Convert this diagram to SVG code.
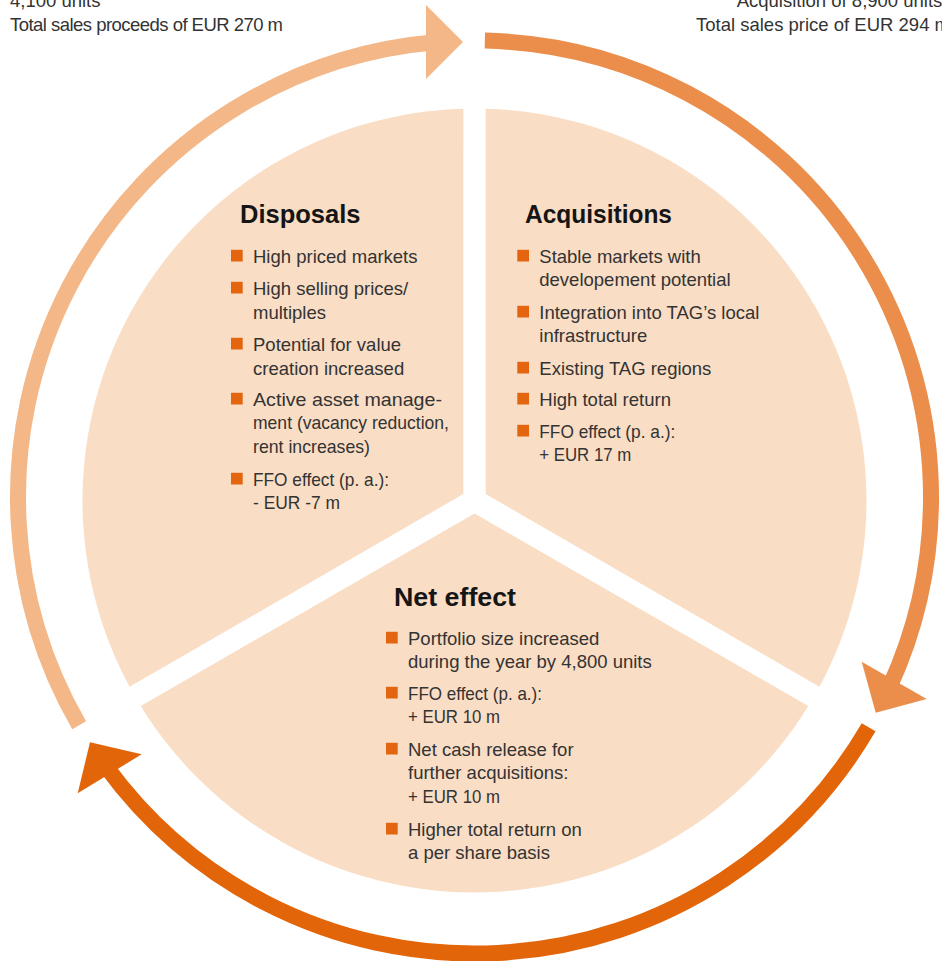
<svg xmlns="http://www.w3.org/2000/svg" width="942" height="961" viewBox="0 0 942 961">
<style>
.sector{fill:#F9DDC4;}
.title{font-family:"Liberation Sans",Arial,sans-serif;font-weight:bold;font-size:25.5px;fill:#151515;}
.body{font-family:"Liberation Sans",Arial,sans-serif;font-size:18.5px;fill:#333333;}
.note{font-family:"Liberation Sans",Arial,sans-serif;font-size:18.5px;fill:#333333;}
.bullet{fill:#E3650F;}
.arc{fill:none;stroke-width:16;stroke-linecap:butt;}
.light{stroke:#F4B787;}
.lightf{fill:#F4B787;}
.mid{stroke:#EC8E4B;}
.midf{fill:#EC8E4B;}
.dark{stroke:#E3650A;}
.darkf{fill:#E3650A;}
</style>
<rect width="942" height="961" fill="#ffffff"/>

<g id="notes">
<text class="note" x="10" y="6.5">4,100 units</text>
<text class="note" x="10" y="31" textLength="273" lengthAdjust="spacing">Total sales proceeds of EUR 270 m</text>
<text class="note" x="736.7" y="6.5">Acquisition of 8,900 units</text>
<text class="note" x="696" y="31">Total sales price of EUR 294 m</text>
</g>

<g id="connectors">
<path class="arc light" d="M 79.15 725.25 A 456.5 456.5 0 0 1 434.71 42.24"/>
<polygon class="lightf" points="426,5 463,42 426,79"/>
<path class="arc mid" d="M 484.86 40.62 A 456.5 456.5 0 0 1 889.57 687.03"/>
<polygon class="midf" points="861.7,661.7 926.7,699 875.7,712.7"/>
<path class="arc dark" d="M 868.64 727.32 A 456.5 456.5 0 0 1 106.12 766.61"/>
<polygon class="darkf" points="141.7,754.3 90,742.3 77.7,793.3"/>
</g>

<g id="disposals">
<path class="sector" d="M 463.33 494.05 L 463.35 108.66 A 392 392 0 0 0 129.6 686.76 Z"/>
<text class="title" x="240" y="223">Disposals</text>
<rect class="bullet" x="231" y="249.8" width="11.7" height="11.7"/>
<text class="body" x="253" y="262.5">High priced markets</text>
<rect class="bullet" x="231" y="281.8" width="11.7" height="11.7"/>
<text class="body" x="253" y="294.5">High selling prices/</text>
<text class="body" x="253" y="318.5">multiples</text>
<rect class="bullet" x="231" y="337.8" width="11.7" height="11.7"/>
<text class="body" x="253" y="350.5">Potential for value</text>
<text class="body" x="253" y="374.5">creation increased</text>
<rect class="bullet" x="231" y="392.8" width="11.7" height="11.7"/>
<text class="body" x="253" y="405.5" textLength="189" lengthAdjust="spacingAndGlyphs">Active asset manage-</text>
<text class="body" x="253" y="429.3" textLength="196" lengthAdjust="spacingAndGlyphs">ment (vacancy reduction,</text>
<text class="body" x="253" y="453.2" textLength="117" lengthAdjust="spacingAndGlyphs">rent increases)</text>
<rect class="bullet" x="231" y="472.8" width="11.7" height="11.7"/>
<text class="body" x="253" y="485.8" textLength="136" lengthAdjust="spacingAndGlyphs">FFO effect (p. a.):</text>
<text class="body" x="253" y="509" textLength="87" lengthAdjust="spacingAndGlyphs">- EUR -7 m</text>
</g>

<g id="acquisitions">
<path class="sector" d="M 485.67 494.05 L 485.65 108.66 A 392 392 0 0 1 819.4 686.76 Z"/>
<text class="title" x="525" y="223" textLength="147" lengthAdjust="spacingAndGlyphs">Acquisitions</text>
<rect class="bullet" x="517.3" y="249.8" width="11.7" height="11.7"/>
<text class="body" x="539.3" y="262.5">Stable markets with</text>
<text class="body" x="539.3" y="286.3">developement potential</text>
<rect class="bullet" x="517.3" y="305.8" width="11.7" height="11.7"/>
<text class="body" x="539.3" y="318.5">Integration into TAG’s local</text>
<text class="body" x="539.3" y="342.3">infrastructure</text>
<rect class="bullet" x="517.3" y="361.8" width="11.7" height="11.7"/>
<text class="body" x="539.3" y="374.5">Existing TAG regions</text>
<rect class="bullet" x="517.3" y="392.8" width="11.7" height="11.7"/>
<text class="body" x="539.3" y="405.5">High total return</text>
<rect class="bullet" x="517.3" y="424.8" width="11.7" height="11.7"/>
<text class="body" x="539.3" y="437.5" textLength="136" lengthAdjust="spacingAndGlyphs">FFO effect (p. a.):</text>
<text class="body" x="539.3" y="461.3" textLength="92" lengthAdjust="spacingAndGlyphs">+ EUR 17 m</text>
</g>

<g id="net-effect">
<path class="sector" d="M 474.5 513.4 L 808.26 706.08 A 392 392 0 0 1 140.75 706.08 Z"/>
<text class="title" x="394" y="606" textLength="122" lengthAdjust="spacingAndGlyphs">Net effect</text>
<rect class="bullet" x="386" y="631.8" width="11.7" height="11.7"/>
<text class="body" x="408" y="644.5">Portfolio size increased</text>
<text class="body" x="408" y="668.3">during the year by 4,800 units</text>
<rect class="bullet" x="386" y="686.8" width="11.7" height="11.7"/>
<text class="body" x="408" y="699.5" textLength="134" lengthAdjust="spacingAndGlyphs">FFO effect (p. a.):</text>
<text class="body" x="408" y="723.3" textLength="92" lengthAdjust="spacingAndGlyphs">+ EUR 10 m</text>
<rect class="bullet" x="386" y="742.8" width="11.7" height="11.7"/>
<text class="body" x="408" y="755.5">Net cash release for</text>
<text class="body" x="408" y="779.3">further acquisitions:</text>
<text class="body" x="408" y="803.1" textLength="92" lengthAdjust="spacingAndGlyphs">+ EUR 10 m</text>
<rect class="bullet" x="386" y="822.8" width="11.7" height="11.7"/>
<text class="body" x="408" y="835.5">Higher total return on</text>
<text class="body" x="408" y="859.3">a per share basis</text>
</g>
</svg>
